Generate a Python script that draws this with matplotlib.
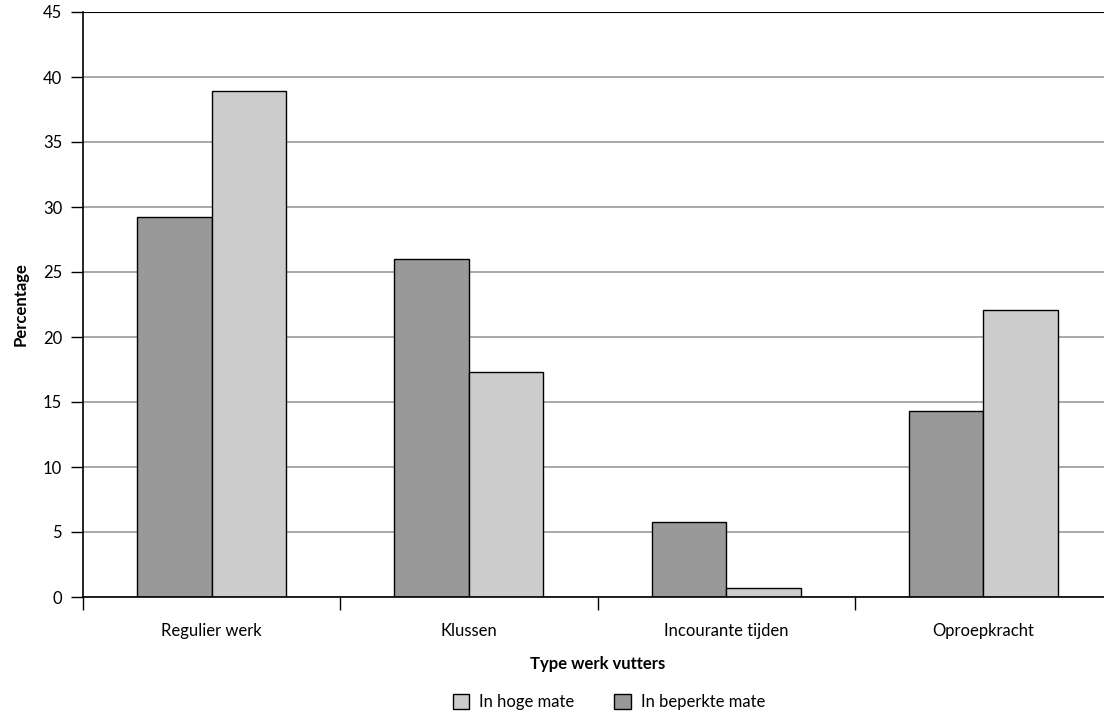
import numpy as np
import matplotlib
matplotlib.use("Agg")
import matplotlib.pyplot as plt
from matplotlib.patches import Patch

# data
categories = ["Regulier werk", "Klussen", "Incourante tijden", "Oproepkracht"]
beperkte_mate = [29.2, 26.0, 5.8, 14.3]
hoge_mate = [38.9, 17.3, 0.7, 22.1]
y_ticks = [0, 5, 10, 15, 20, 25, 30, 35, 40, 45]

plt.rcParams['font.family'] = ['Lato', 'DejaVu Sans']
plt.rcParams['font.size'] = 12

fig = plt.figure(figsize=(11.04, 7.14), dpi=100)
# axes runs a little past the right edge, as in the reference
ax = fig.add_axes([83 / 1104, 1 - 597 / 714, 1029 / 1104, 585 / 714])

x = np.arange(len(categories))
width = 0.29
ax.bar(x - width / 2, beperkte_mate, width, color="#999999", edgecolor="black", linewidth=1.0, zorder=3)
ax.bar(x + width / 2, hoge_mate, width, color="#cccccc", edgecolor="black", linewidth=1.0, zorder=3)

ax.set_xlim(-0.5, len(categories) - 0.5)
ax.set_ylim(0, 45)
ax.set_yticks(y_ticks)
ax.yaxis.grid(True, color="#999999", linewidth=1.2, zorder=0)
ax.axhline(45, color="black", linewidth=1.5, zorder=4)

ax.set_xticks(np.arange(len(categories) + 1) - 0.5)
ax.set_xticklabels([])
ax.set_xticks(x, minor=True)
ax.set_xticklabels(categories, minor=True)
ax.tick_params(axis="x", which="major", length=9, width=1, direction="out", color="black")
ax.tick_params(axis="x", which="minor", length=0, pad=19)
ax.tick_params(axis="y", length=9, width=1, direction="out", pad=6)

for side in ["top", "right"]:
    ax.spines[side].set_visible(False)
ax.spines["left"].set_linewidth(1.2)
ax.spines["bottom"].set_linewidth(1.2)
ax.spines["bottom"].set_zorder(5)

ax.set_ylabel("Percentage", fontweight="bold", labelpad=10)
ax.set_xlabel("Type werk vutters", fontweight="bold", labelpad=12)

handles = [Patch(facecolor="#cccccc", edgecolor="black", label="In hoge mate"),
           Patch(facecolor="#999999", edgecolor="black", label="In beperkte mate")]
fig.legend(handles=handles, loc="lower center", bbox_to_anchor=(609 / 1104, -0.016), ncol=2,
           frameon=False, handlelength=1.0, handleheight=1.0, columnspacing=2.4, handletextpad=0.6)

fig.savefig("out.png", dpi=100)
